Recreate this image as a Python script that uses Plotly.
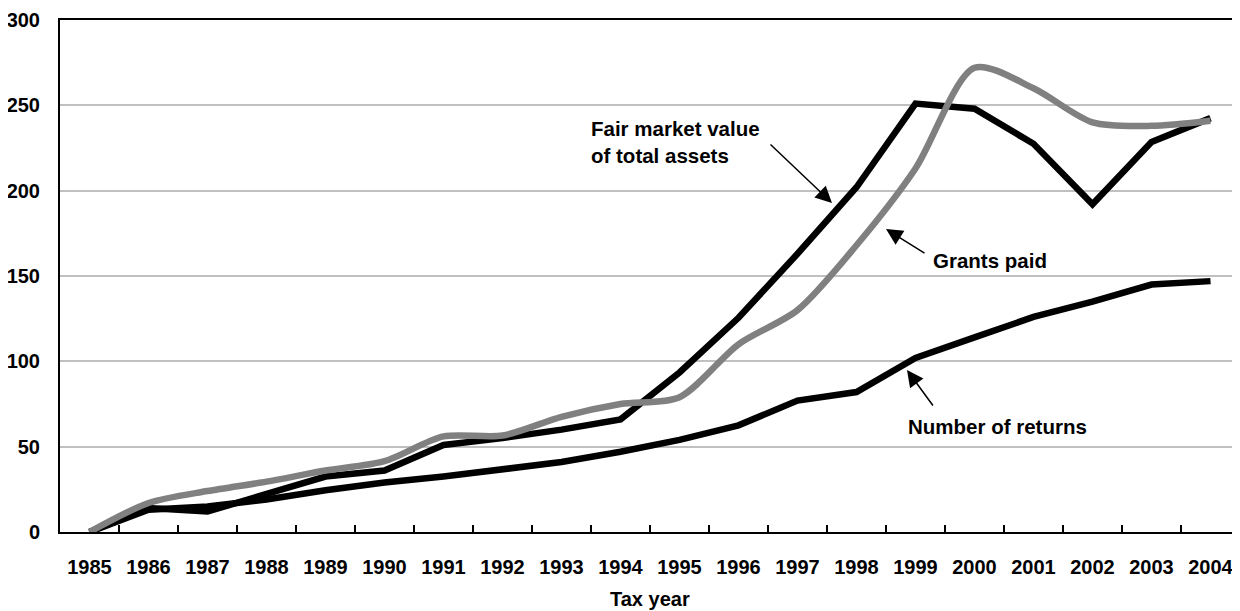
import plotly.graph_objects as go

years = [str(y) for y in range(1985, 2005)]
number_of_returns = [0, 13, 15, 19, 24.5, 29, 32.5, 36.5, 41, 47, 54, 62.5, 77, 82, 102, 114, 126, 135, 145, 147]
fair_market_value = [0, 14, 12, 22, 32.5, 36, 51, 55, 60, 66, 93.5, 125.5, 163, 202, 251, 248, 227.5, 192, 228.5, 242.5]
grants_paid = [0, 17, 24, 29.5, 36, 41.5, 56, 56.5, 67.5, 75, 79, 110, 130, 168, 213, 272, 260, 240, 238, 241]
y_ticks = [0, 50, 100, 150, 200, 250, 300]

FONT = "Arial, 'Liberation Sans', sans-serif"

# the page body has an 8px default margin; compensate so the plot area lands where the reference has it
OFF = 8
W, H = 1240 - OFF, 611 - OFF
L, R, T, B = 60 - OFF, 0, 20 - OFF, 79
pw, ph = W - L - R, H - T - B
step = pw / len(years)

fig = go.Figure()
fig.add_trace(go.Scatter(x=years, y=number_of_returns, mode="lines",
                         line=dict(color="black", width=6.5), name="Number of returns"))
fig.add_trace(go.Scatter(x=years, y=fair_market_value, mode="lines",
                         line=dict(color="black", width=6.5), name="Fair market value of total assets"))
fig.add_trace(go.Scatter(x=years, y=grants_paid, mode="lines",
                         line=dict(color="#808080", width=6.5, shape="spline", smoothing=0.8),
                         name="Grants paid"))


# helpers take screen-pixel positions (page coordinates)
def xi(px):
    return (px - OFF - L) / step - 0.5


def yv(py):
    return (OFF + T + ph - py) / ph * 300


def arrow(head, tail):
    fig.add_annotation(x=xi(head[0]), y=yv(head[1]), xref="x", yref="y",
                       ax=xi(tail[0]), ay=yv(tail[1]), axref="x", ayref="y",
                       text="", showarrow=True, arrowhead=2, arrowsize=2.2,
                       arrowwidth=1.5, arrowcolor="black")


def label(px, py, text):
    fig.add_annotation(x=xi(px), y=yv(py), xref="x", yref="y", text=text,
                       showarrow=False, xanchor="left", yanchor="middle", align="left",
                       font=dict(family=FONT, size=20.5, color="black", weight="bold"))


label(589, 142, "Fair market value<br>of total assets")
arrow((832, 203), (769, 143))
label(931, 260, "Grants paid")
arrow((886, 229), (926, 254))
label(906, 426, "Number of returns")
arrow((907, 370), (934, 407))

fig.add_annotation(x=0.5, y=yv(599) / 300, xref="paper", yref="paper",
                   text="Tax year", showarrow=False, xanchor="center", yanchor="middle",
                   font=dict(family=FONT, size=20, color="black", weight="bold"))

fig.update_layout(
    width=W, height=H,
    margin=dict(l=L, r=R, t=T, b=B, pad=0),
    paper_bgcolor="white", plot_bgcolor="white",
    showlegend=False,
    font=dict(family=FONT, color="black"),
    xaxis=dict(type="category", categoryorder="array", categoryarray=years,
               range=[-0.5, len(years) - 0.5],
               showline=True, linecolor="black", linewidth=2, mirror=True,
               ticks="inside", tickson="boundaries", ticklen=7, tickwidth=1.5, tickcolor="black",
               showgrid=False, ticklabelstandoff=16,
               tickfont=dict(family=FONT, size=20, color="black", weight="bold")),
    yaxis=dict(range=[0, 300], tickvals=y_ticks, ticktext=[str(v) for v in y_ticks],
               showline=True, linecolor="black", linewidth=2,
               showgrid=True, gridcolor="#c0c0c0", gridwidth=2, zeroline=False,
               ticks="", ticklabelstandoff=14,
               tickfont=dict(family=FONT, size=20, color="black", weight="bold")),
)

fig.write_html("out.html")
